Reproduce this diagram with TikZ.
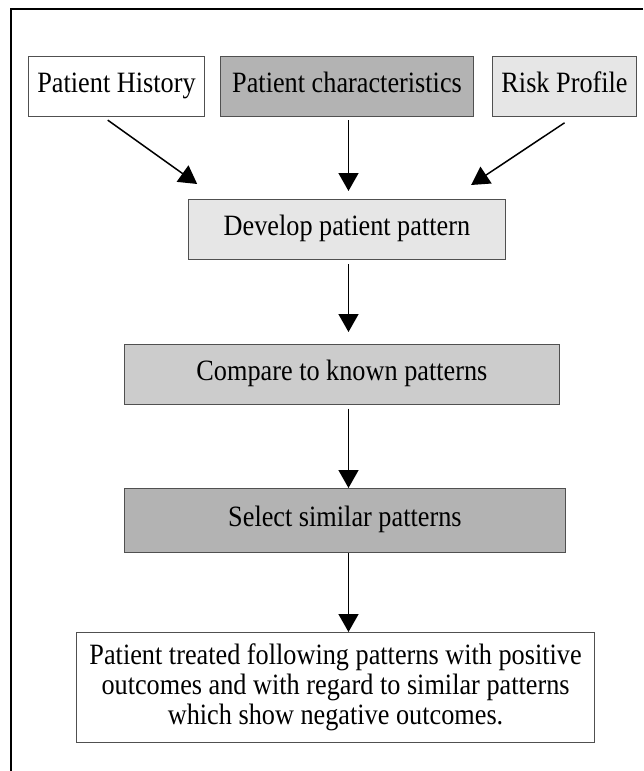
\documentclass[tikz,border=0pt]{standalone}
\usepackage{fontspec}
\setmainfont[FakeStretch=0.89]{Liberation Serif}
\usetikzlibrary{arrows.meta,calc}
\definecolor{boxline}{HTML}{505050}
\definecolor{lightg}{HTML}{E6E6E6}
\definecolor{midg}{HTML}{CCCCCC}
\definecolor{darkg}{HTML}{B3B3B3}
\begin{document}
\begin{tikzpicture}[x=1pt,y=-1pt,
  box/.style={draw=boxline, line width=1.1pt, inner sep=0pt, anchor=north west,
    font=\fontsize{29.5}{30}\selectfont},
  onel/.style={box, text height=20pt, text depth=8pt},
  arr/.style={line width=1.5pt, -{Triangle[length=18pt,width=20pt]}}]
\useasboundingbox (0,0) rectangle (643,771);
\fill[white] (0,0) rectangle (643,771);
% outer frame (top and left)
\coordinate (ftl) at (11,9);
\coordinate (ftr) at (643,9);
\coordinate (fbl) at (11,771);
\draw[line width=2pt] (ftr) -- (ftl) -- (fbl);
% top row
\node[onel, fill=white, minimum width=176.5pt, minimum height=60pt] (ph) at (27.7,55.7) {Patient History};
\node[onel, fill=darkg, minimum width=253pt, minimum height=60pt] (pc) at (220,55.7) {Patient characteristics};
\node[onel, fill=lightg, minimum width=144pt, minimum height=60pt] (rp) at (492,55.7) {Risk Profile};
% process boxes
\node[onel, fill=lightg, minimum width=317.3pt, minimum height=60pt] (dev) at (187.7,199) {Develop patient pattern};
\node[onel, fill=midg, minimum width=435.3pt, minimum height=59.5pt] (cmp) at (123.7,344) {Compare to known patterns};
\node[onel, fill=darkg, minimum width=441.3pt, minimum height=64pt] (sel) at (123.7,488) {Select similar patterns};
\node[box, align=center, fill=white, minimum width=518pt, minimum height=110pt] (out) at (76,632)
  {Patient treated following patterns with positive\\outcomes and with regard to similar patterns\\which show negative outcomes.};
% arrow column
\coordinate (ax) at (348.5,0);
% connectors
\draw[arr] ($(ph.south)+(-8.8,3.3)$) -- ($(dev.north west)+(9.5,-15)$);
\draw[arr] ($(pc.south -| ax)+(0,3.3)$) -- ($(dev.north -| ax)+(0,-8)$);
\draw[arr] ($(rp.south)+(0,6)$) -- ($(dev.north east)+(-35,-14)$);
\draw[arr] ($(dev.south -| ax)+(0,4)$) -- ($(cmp.north -| ax)+(0,-12)$);
\draw[arr] ($(cmp.south -| ax)+(0,4)$) -- (sel.north -| ax);
\draw[arr] (sel.south -| ax) -- (out.north -| ax);
\end{tikzpicture}
\end{document}
